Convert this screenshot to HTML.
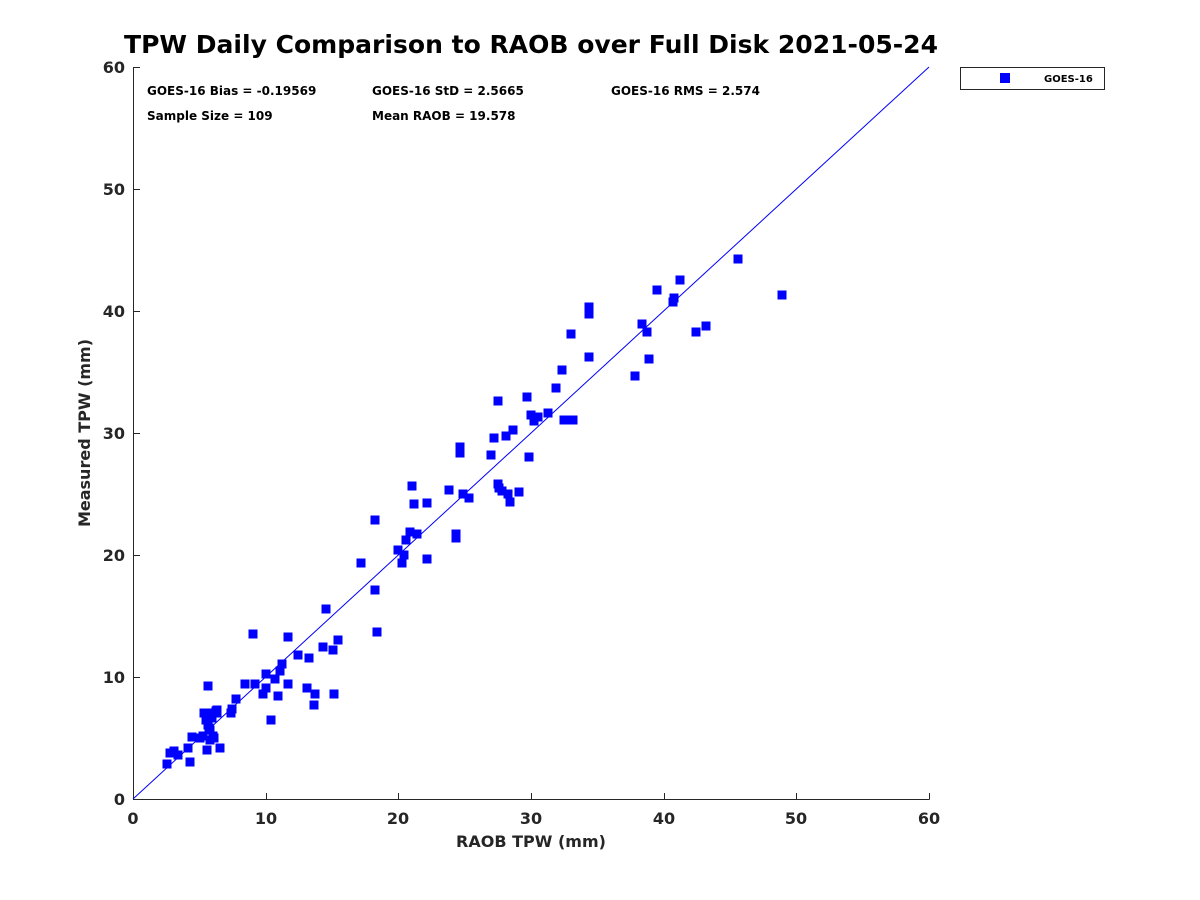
<!DOCTYPE html>
<html><head><meta charset="utf-8"><style>
html,body{margin:0;padding:0;background:#fff}
svg{display:block}
text{font-family:"DejaVu Sans","Liberation Sans",sans-serif;font-weight:bold;fill:#262626}
</style></head><body>
<svg width="1200" height="900" xmlns="http://www.w3.org/2000/svg">
<rect width="1200" height="900" fill="#fff"/>
<text x="531" y="53" font-size="25" text-anchor="middle" textLength="814" lengthAdjust="spacingAndGlyphs" style="fill:#000">TPW Daily Comparison to RAOB over Full Disk 2021-05-24</text>
<g stroke="#262626" stroke-width="1" fill="none">
<path d="M133.5 67V799.5H929.5"/>
<path d="M133.5 799.5V793M266.5 799.5V793M398.5 799.5V793M531.5 799.5V793M664.5 799.5V793M796.5 799.5V793M929.5 799.5V793"/>
<path d="M133.5 799.5H140M133.5 677.5H140M133.5 555.5H140M133.5 433.5H140M133.5 311.5H140M133.5 189.5H140M133.5 67.5H140"/>
</g>
<line x1="133" y1="799" x2="929" y2="67" stroke="#0000ff" stroke-width="1"/>
<g font-size="16" text-anchor="middle">
<text x="133" y="824">0</text><text x="266" y="824">10</text><text x="398" y="824">20</text><text x="531" y="824">30</text><text x="664" y="824">40</text><text x="796" y="824">50</text><text x="929" y="824">60</text>
</g>
<g font-size="16" text-anchor="end">
<text x="125" y="805">0</text><text x="125" y="683">10</text><text x="125" y="561">20</text><text x="125" y="439">30</text><text x="125" y="317">40</text><text x="125" y="195">50</text><text x="125" y="73">60</text>
</g>
<text x="531" y="847" font-size="16" text-anchor="middle">RAOB TPW (mm)</text>
<text transform="translate(90 433) rotate(-90)" font-size="16" text-anchor="middle">Measured TPW (mm)</text>
<g font-size="12">
<text x="147" y="95" style="fill:#000">GOES-16 Bias = -0.19569</text>
<text x="372" y="95" style="fill:#000">GOES-16 StD = 2.5665</text>
<text x="611" y="95" style="fill:#000">GOES-16 RMS = 2.574</text>
<text x="147" y="120" style="fill:#000">Sample Size = 109</text>
<text x="372" y="120" style="fill:#000">Mean RAOB = 19.578</text>
</g>
<rect x="960.5" y="67.5" width="144" height="22" fill="#fff" stroke="#262626"/>
<rect x="1000" y="73" width="10" height="10" fill="#0000ff"/>
<text x="1044" y="82" font-size="10" style="fill:#000">GOES-16</text>
<g fill="#0000ff" id="pts"></g>
</svg>
<script>
var p=[[167,764],[170,753],[174,751],[178,755],[188,748],[190,762],[192,737],[200,738],[203,736],[204,713],[207,750],[208,725],[208,686],[209,717],[210,730],[210,740],[211,713],[212,718],[213,736],[214,738],[216,711],[217,713],[220,748],[217,710],[231,713],[232,709],[236,699],[245,684],[253,634],[255,684],[263,694],[266,688],[266,674],[271,720],[275,679],[278,696],[280,671],[282,664],[288,684],[288,637],[298,655],[307,688],[309,658],[314,705],[315,694],[323,647],[326,609],[333,650],[334,694],[338,640],[361,563],[375,520],[375,590],[377,632],[398,550],[402,563],[404,555],[406,540],[410,532],[412,486],[414,504],[417,534],[427,503],[427,559],[449,490],[456,534],[456,538],[460,447],[460,453],[463,494],[469,498],[491,455],[494,438],[498,401],[498,484],[499,488],[502,491],[508,494],[510,502],[513,430],[506,436],[519,492],[527,397],[529,457],[531,415],[534,421],[538,417],[548,413],[556,388],[562,370],[564,420],[571,334],[573,420],[589,357],[589,307],[589,314],[635,376],[642,324],[647,332],[649,359],[657,290],[673,302],[674,298],[680,280],[696,332],[706,326],[738,259],[782,295],[206,720],[209,728]];
var g=document.getElementById('pts'),s='';
p.forEach(function(q){s+='<rect x="'+(q[0]-4.5)+'" y="'+(q[1]-4.5)+'" width="9" height="9"/>';});
g.innerHTML=s;
</script>
</body></html>
